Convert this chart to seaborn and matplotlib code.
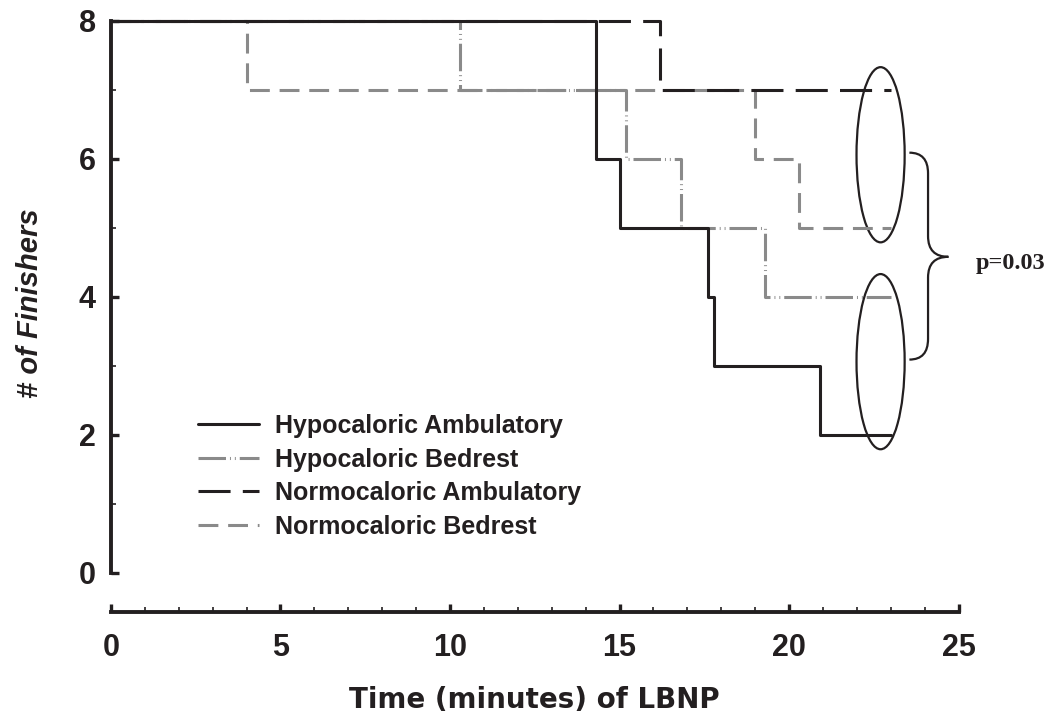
import matplotlib
matplotlib.use("Agg")
import matplotlib.pyplot as plt
import seaborn as sns
import pandas as pd
from matplotlib.patches import Ellipse, PathPatch
from matplotlib.path import Path

sns.set_theme(style="white")
plt.rcParams['font.family'] = ['Liberation Sans', 'DejaVu Sans']

# ---- data ----
series_names = ["Hypocaloric Ambulatory", "Hypocaloric Bedrest",
                "Normocaloric Ambulatory", "Normocaloric Bedrest"]
hypo_amb_t = [0, 14.3, 15.0, 17.6, 17.8, 20.9, 23.0]
hypo_amb_n = [8, 6, 5, 4, 3, 2, 2]
hypo_bed_t = [0, 10.3, 15.2, 16.8, 19.3, 23.0]
hypo_bed_n = [8, 7, 6, 5, 4, 4]
normo_amb_t = [0, 16.2, 23.0]
normo_amb_n = [8, 7, 7]
normo_bed_t = [0, 4.0, 19.0, 20.3, 23.0]
normo_bed_n = [8, 7, 6, 5, 5]
x_ticks = [0, 5, 10, 15, 20, 25]
y_ticks = [0, 2, 4, 6, 8]
p_text = "p=0.03"

BLACK = "#231f20"
GRAY = "#8a8a8a"
styles = {
    "Hypocaloric Ambulatory": dict(color=BLACK, linestyle="-"),
    "Hypocaloric Bedrest": dict(color=GRAY, linestyle=(0, (9, 1.3, 0.3, 1.3, 0.3, 1.3))),
    "Normocaloric Ambulatory": dict(color=BLACK, linestyle=(0, (10.5, 4))),
    "Normocaloric Bedrest": dict(color=GRAY, linestyle=(0, (6.5, 3.2))),
}
data = {
    "Hypocaloric Ambulatory": (hypo_amb_t, hypo_amb_n),
    "Hypocaloric Bedrest": (hypo_bed_t, hypo_bed_n),
    "Normocaloric Ambulatory": (normo_amb_t, normo_amb_n),
    "Normocaloric Bedrest": (normo_bed_t, normo_bed_n),
}

fig = plt.figure(figsize=(10.5, 7.23), dpi=100)
ax = fig.add_axes([0.1057, 0.1535, 0.8169, 0.8223])

draw_order = ["Normocaloric Bedrest", "Hypocaloric Bedrest",
              "Normocaloric Ambulatory", "Hypocaloric Ambulatory"]
handles = {}
for name in draw_order:
    t, n = data[name]
    df = pd.DataFrame({"t": t, "n": n})
    sns.lineplot(data=df, x="t", y="n", ax=ax, drawstyle="steps-post",
                 estimator=None, linewidth=2.2, label=name,
                 clip_on=False, **styles[name])
    handles[name] = ax.get_lines()[-1]

ax.set_xlim(0, 25.3)
ax.set_ylim(-0.57, 8.05)

for s in ["top", "right"]:
    ax.spines[s].set_visible(False)
for s in ["left", "bottom"]:
    ax.spines[s].set_linewidth(2.8)
    ax.spines[s].set_color(BLACK)
ax.spines["left"].set_bounds(0, 8)
ax.spines["bottom"].set_bounds(0, 25)

ax.set_xticks(x_ticks)
ax.set_xticks(range(0, 26), minor=True)
ax.set_yticks(y_ticks)
ax.set_yticks([1, 3, 5, 7], minor=True)
ax.tick_params(axis="both", which="major", direction="in", length=5.5, width=2.4,
               color=BLACK, labelsize=22, labelcolor=BLACK)
ax.tick_params(axis="both", which="minor", direction="in", length=3.8, width=1.2,
               color=BLACK)
ax.tick_params(axis="y", which="major", pad=11)
ax.tick_params(axis="x", which="major", pad=15)
ax.tick_params(left=True, bottom=True, which="both")
for lab in ax.get_xticklabels() + ax.get_yticklabels():
    lab.set_fontweight("bold")

ax.set_xlabel("Time (minutes) of LBNP", fontsize=20, fontweight="bold", color=BLACK,
              family=["DejaVu Sans"])
ax.set_ylabel("# of Finishers", fontsize=21, fontweight="bold", fontstyle="italic", color=BLACK)
ax.xaxis.set_label_coords(0.494, -0.148)
ax.xaxis.label.set_verticalalignment("center")
ax.yaxis.set_label_coords(-0.094, 0.52)
ax.yaxis.label.set_verticalalignment("center")

# ellipses
for cy in [6.06, 3.06]:
    ax.add_patch(Ellipse((22.7, cy), 1.42, 2.54, fill=False, edgecolor=BLACK,
                         linewidth=1.6, clip_on=False))

# brace
x0, xs, xt = 23.55, 24.1, 24.7
ytop, ymid, ybot = 6.09, 4.58, 3.09
r = 0.3
verts = [(x0, ytop), (xs, ytop), (xs, ytop - r),
         (xs, ymid + r), (xs, ymid), (xt, ymid),
         (xs, ymid), (xs, ymid - r),
         (xs, ybot + r), (xs, ybot), (x0, ybot)]
codes = [Path.MOVETO, Path.CURVE3, Path.CURVE3,
         Path.LINETO, Path.CURVE3, Path.CURVE3,
         Path.CURVE3, Path.CURVE3,
         Path.LINETO, Path.CURVE3, Path.CURVE3]
ax.add_patch(PathPatch(Path(verts, codes), fill=False, edgecolor=BLACK,
                       linewidth=1.6, clip_on=False))
ax.text(25.5, 4.48, p_text, ha="left", va="center", fontsize=17.5,
        fontweight="bold", family=["Liberation Serif", "DejaVu Serif"],
        color=BLACK, clip_on=False)

leg = ax.legend(handles=[handles[n] for n in series_names], labels=series_names,
                loc="upper left", bbox_to_anchor=(198 / 1050, 1 - 414 / 723),
                bbox_transform=fig.transFigure, frameon=False, fontsize=18,
                handlelength=2.45, handletextpad=0.62, labelspacing=0.38,
                borderpad=0, borderaxespad=0)
for txt in leg.get_texts():
    txt.set_fontweight("bold")
    txt.set_color(BLACK)

fig.savefig("out.png", dpi=100)
